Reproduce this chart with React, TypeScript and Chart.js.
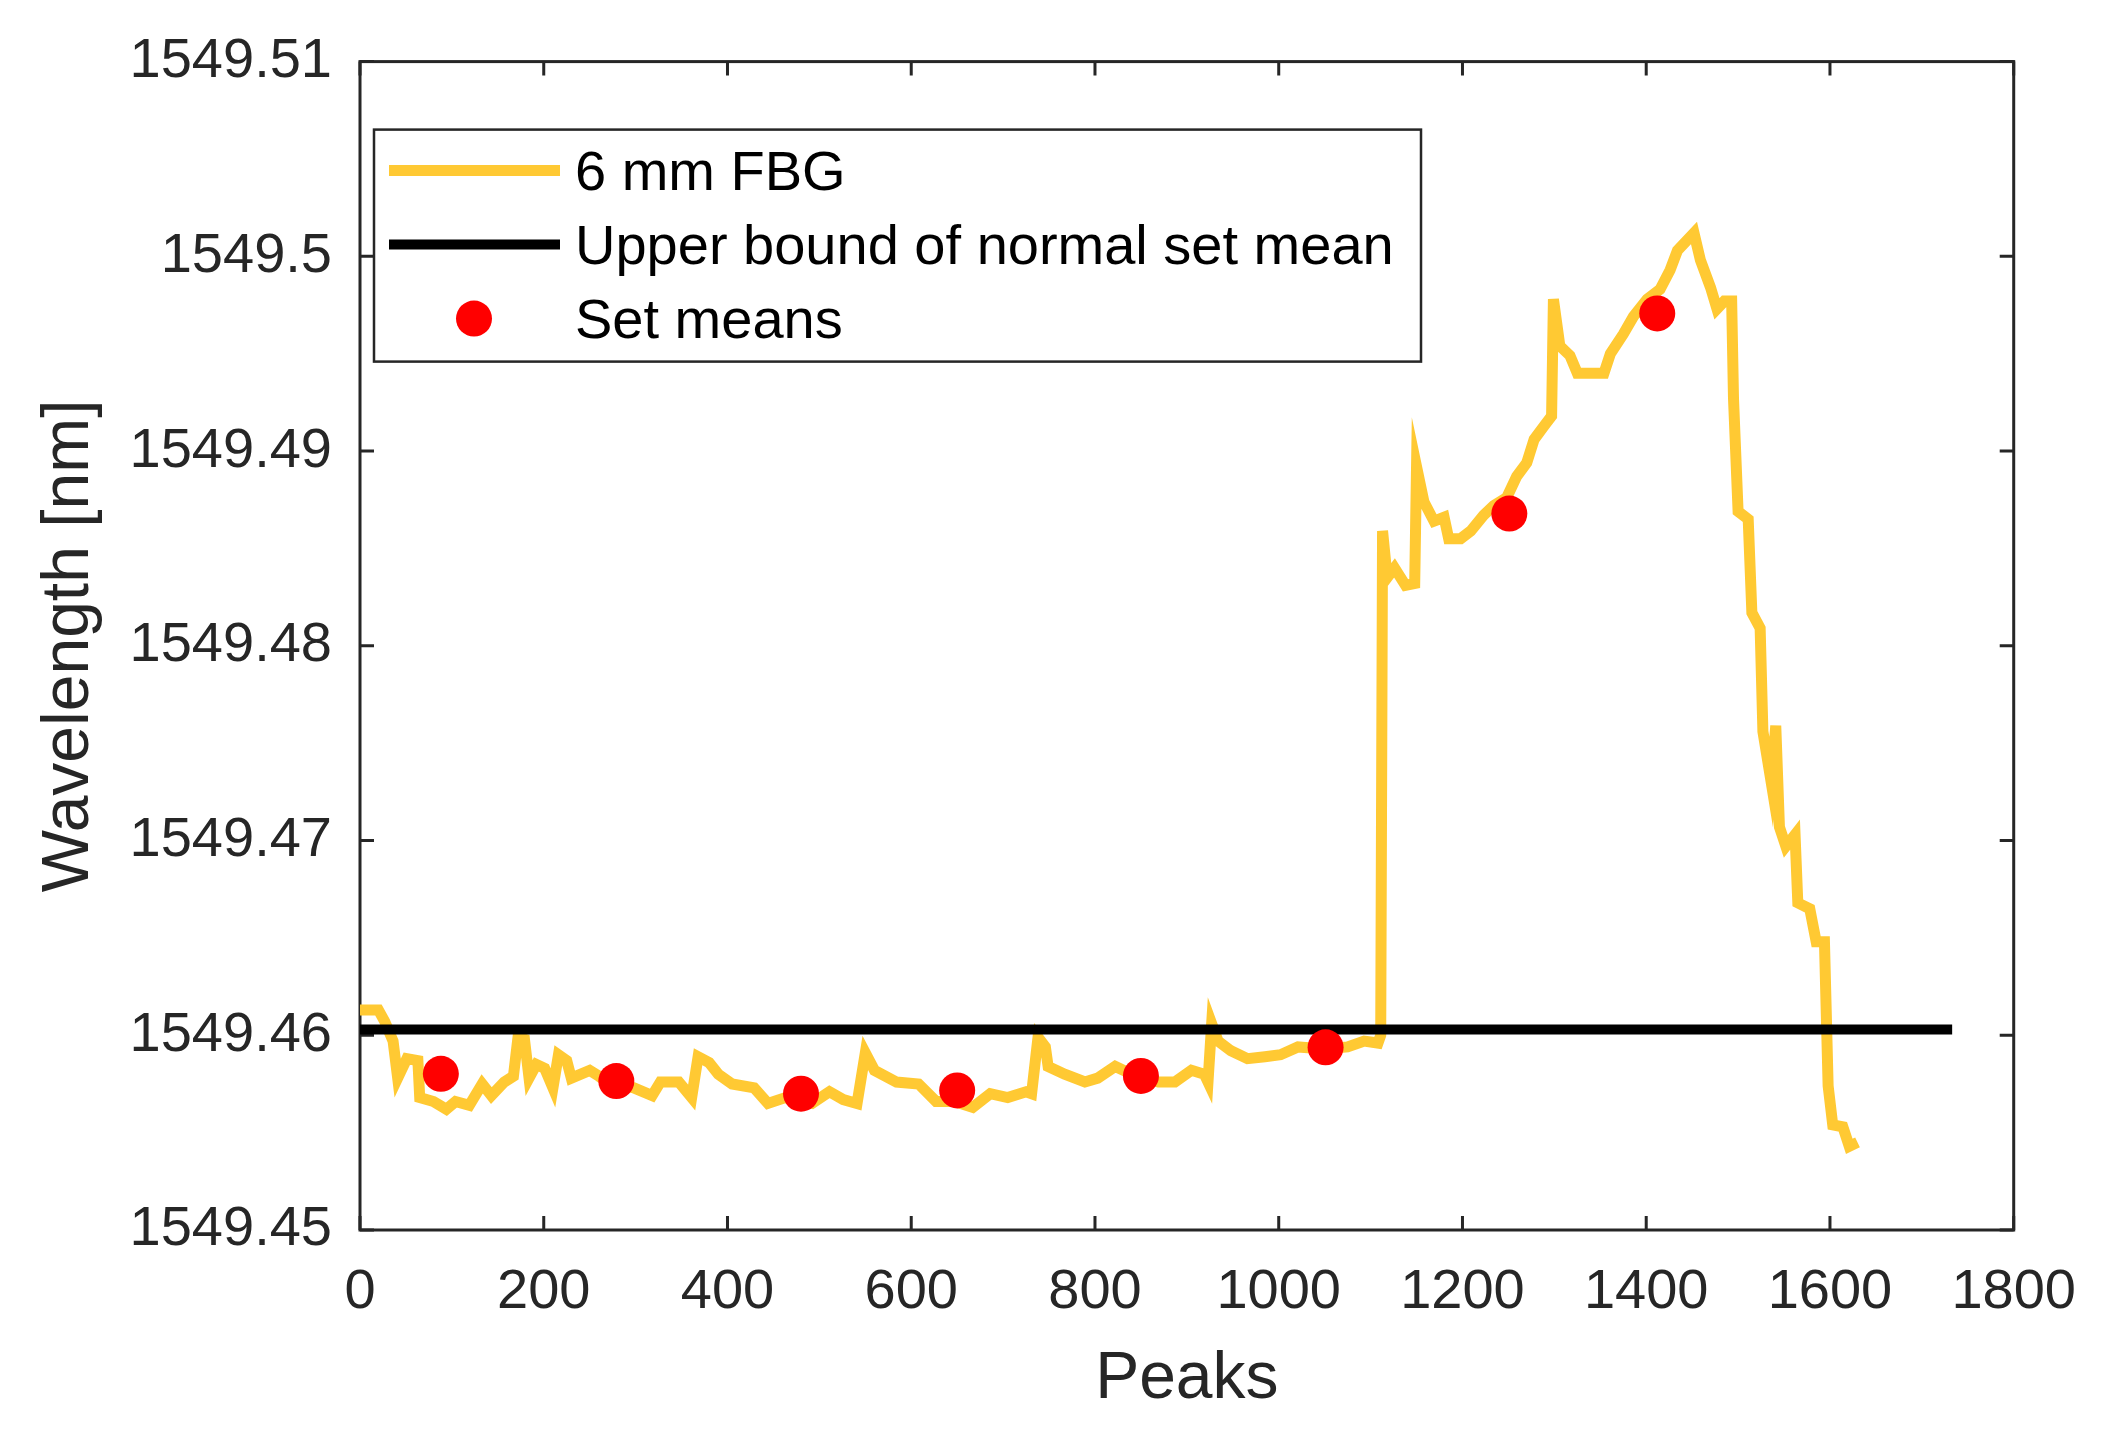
import { useEffect, useRef } from "react";
import { Chart, registerables } from "chart.js";

Chart.register(...registerables);

// 6 mm FBG trace (peak index vs. wavelength in nm)
const peakIndex: number[] = [
  0, 20, 27, 36, 41, 51, 63, 65, 80, 94, 104, 119, 133, 143, 157, 167, 172, 179, 184, 192,
  201, 210, 216, 225, 230, 250, 260, 269, 298, 318, 327, 347, 361, 368, 380, 390, 405, 429, 444, 463,
  492, 511, 526, 541, 550, 560, 584, 608, 627, 647, 667, 686, 705, 725, 731, 738, 746, 749, 767, 789,
  803, 822, 840, 869, 887, 905, 919, 923, 927, 934, 948, 966, 985, 1002, 1021, 1049, 1075, 1093, 1108, 1111,
  1113, 1118, 1126, 1138, 1148, 1150, 1158, 1169, 1180, 1185, 1198, 1209, 1223, 1234, 1248, 1259, 1270, 1278, 1289, 1297,
  1299, 1306, 1317, 1325, 1354, 1361, 1375, 1386, 1401, 1415, 1426, 1434, 1452, 1459, 1470, 1477, 1485, 1493, 1495, 1500,
  1511, 1515, 1524, 1527, 1536, 1541, 1545, 1552, 1562, 1565, 1578, 1585, 1594, 1598, 1603, 1614, 1621, 1630,
];
const wavelengthNm: number[] = [
  1549.4613, 1549.4613, 1549.4607, 1549.4597, 1549.4578, 1549.4588, 1549.4587, 1549.4568, 1549.4566, 1549.4562,
  1549.4566, 1549.4564, 1549.4575, 1549.4569, 1549.4576, 1549.4579, 1549.4599, 1549.4598, 1549.4578, 1549.4585,
  1549.4583, 1549.4573, 1549.459, 1549.4587, 1549.4578, 1549.4582, 1549.4579, 1549.4576, 1549.4573, 1549.4569,
  1549.4576, 1549.4576, 1549.4568, 1549.4589, 1549.4586, 1549.458, 1549.4575, 1549.4573, 1549.4565, 1549.4568,
  1549.4565, 1549.4571, 1549.4567, 1549.4565, 1549.4591, 1549.4582, 1549.4576, 1549.4575, 1549.4566, 1549.4566,
  1549.4563, 1549.457, 1549.4568, 1549.4571, 1549.457, 1549.4599, 1549.4594, 1549.4584, 1549.458, 1549.4576,
  1549.4578, 1549.4584, 1549.458, 1549.4576, 1549.4576, 1549.4582, 1549.458, 1549.4576, 1549.4606, 1549.4597,
  1549.4592, 1549.4588, 1549.4589, 1549.459, 1549.4594, 1549.4593, 1549.4594, 1549.4597, 1549.4596, 1549.46,
  1549.4859, 1549.4835, 1549.484, 1549.4831, 1549.4832, 1549.4892, 1549.4874, 1549.4864, 1549.4866, 1549.4855,
  1549.4855, 1549.4859, 1549.4867, 1549.4872, 1549.4876, 1549.4887, 1549.4894, 1549.4906, 1549.4913, 1549.4918,
  1549.4978, 1549.4954, 1549.4949, 1549.494, 1549.494, 1549.495, 1549.496, 1549.4969, 1549.4978, 1549.4983,
  1549.4993, 1549.5003, 1549.5012, 1549.4998, 1549.4984, 1549.4973, 1549.4977, 1549.4977, 1549.4927, 1549.4869,
  1549.4865, 1549.4817, 1549.4809, 1549.4756, 1549.473, 1549.4759, 1549.4707, 1549.4697, 1549.4703, 1549.4668,
  1549.4665, 1549.4648, 1549.4648, 1549.4574, 1549.4554, 1549.4553, 1549.4543, 1549.4545,
];

// upper bound of the normal set mean
const boundPeak: number[] = [0, 1733];
const boundWavelength: number[] = [1549.4603, 1549.4603];

// set means
const meanPeak: number[] = [88, 279, 480, 650, 850, 1051, 1251, 1412];
const meanWavelength: number[] = [
  1549.45802, 1549.45765, 1549.457, 1549.45717, 1549.45791, 1549.45938, 1549.48679, 1549.49707,
];

const seriesLabels: string[] = ["6 mm FBG", "Upper bound of normal set mean", "Set means"];

const xTicks: number[] = [0, 200, 400, 600, 800, 1000, 1200, 1400, 1600, 1800];
const yTicks: number[] = [1549.45, 1549.46, 1549.47, 1549.48, 1549.49, 1549.5, 1549.51];

const FONT = "'Liberation Sans', Arial, sans-serif";
const INK = "#262626";

const toPoints = (xs: number[], ys: number[]) => xs.map((x, i) => ({ x, y: ys[i] }));

// MATLAB-style box with inward ticks on all four sides
const axesBox = {
  id: "axesBox",
  beforeDatasetsDraw(chart: any) {
    const { ctx, chartArea: a, scales } = chart;
    const len = 14;
    ctx.save();
    ctx.strokeStyle = INK;
    ctx.lineWidth = 3;
    ctx.strokeRect(a.left, a.top, a.right - a.left, a.bottom - a.top);
    ctx.beginPath();
    xTicks.forEach((v) => {
      const px = scales.x.getPixelForValue(v);
      ctx.moveTo(px, a.bottom);
      ctx.lineTo(px, a.bottom - len);
      ctx.moveTo(px, a.top);
      ctx.lineTo(px, a.top + len);
    });
    yTicks.forEach((v) => {
      const py = scales.y.getPixelForValue(v);
      ctx.moveTo(a.left, py);
      ctx.lineTo(a.left + len, py);
      ctx.moveTo(a.right, py);
      ctx.lineTo(a.right - len, py);
    });
    ctx.stroke();
    ctx.restore();
  },
};

// legend box in the upper left of the axes
const legendBox = {
  id: "legendBox",
  afterDatasetsDraw(chart: any) {
    const { ctx, chartArea: a } = chart;
    const left = a.left + 14;
    const top = a.top + 68;
    const w = 1047;
    const h = 232;
    ctx.save();
    ctx.fillStyle = "#ffffff";
    ctx.fillRect(left, top, w, h);
    ctx.strokeStyle = INK;
    ctx.lineWidth = 2.5;
    ctx.strokeRect(left, top, w, h);
    chart.data.datasets.forEach((ds: any, i: number) => {
      const y = top + 41 + i * 74;
      if (ds.showLine === false) {
        ctx.fillStyle = ds.backgroundColor;
        ctx.beginPath();
        ctx.arc(left + 100, y, ds.pointRadius, 0, Math.PI * 2);
        ctx.fill();
      } else {
        ctx.strokeStyle = ds.borderColor;
        ctx.lineWidth = ds.borderWidth;
        ctx.beginPath();
        ctx.moveTo(left + 15, y);
        ctx.lineTo(left + 186, y);
        ctx.stroke();
      }
      ctx.fillStyle = "#000000";
      ctx.font = `56px ${FONT}`;
      ctx.textBaseline = "middle";
      ctx.textAlign = "left";
      ctx.fillText(ds.label, left + 201, y + 4);
    });
    ctx.restore();
  },
};

const App: React.FC = () => {
  const chartRef = useRef<HTMLCanvasElement | null>(null);

  useEffect(() => {
    const chart = new Chart(chartRef.current!, {
      type: "scatter",
      data: {
        datasets: [
          {
            label: seriesLabels[0],
            data: toPoints(peakIndex, wavelengthNm),
            showLine: true,
            borderColor: "#FFC933",
            backgroundColor: "#FFC933",
            borderWidth: 11,
            pointRadius: 0,
            tension: 0,
            order: 2,
          },
          {
            label: seriesLabels[1],
            data: toPoints(boundPeak, boundWavelength),
            showLine: true,
            borderColor: "#000000",
            backgroundColor: "#000000",
            borderWidth: 10,
            pointRadius: 0,
            order: 1,
          },
          {
            label: seriesLabels[2],
            data: toPoints(meanPeak, meanWavelength),
            showLine: false,
            backgroundColor: "#FF0000",
            borderColor: "#FF0000",
            borderWidth: 0,
            pointRadius: 18,
            order: 0,
          },
        ],
      },
      options: {
        animation: false,
        responsive: false,
        devicePixelRatio: 1,
        layout: { padding: { top: 53, right: 87, bottom: 0, left: 0 } },
        plugins: {
          legend: { display: false },
          tooltip: { enabled: false },
        },
        scales: {
          x: {
            type: "linear",
            min: 0,
            max: 1800,
            afterFit: (scale: any) => {
              scale.height = 203;
            },
            afterBuildTicks: (scale: any) => {
              scale.ticks = xTicks.map((value) => ({ value }));
            },
            grid: { display: false, drawTicks: false },
            border: { display: false },
            ticks: {
              padding: 29,
              color: INK,
              font: { family: FONT, size: 56 },
              maxRotation: 0,
              callback: (v: any) => String(v),
            },
            title: {
              display: true,
              text: "Peaks",
              color: INK,
              font: { family: FONT, size: 66 },
              padding: { top: 0, bottom: 14 },
            },
          },
          y: {
            type: "linear",
            min: 1549.45,
            max: 1549.51,
            afterFit: (scale: any) => {
              scale.width = 360;
            },
            afterBuildTicks: (scale: any) => {
              scale.ticks = yTicks.map((value) => ({ value }));
            },
            grid: { display: false, drawTicks: false },
            border: { display: false },
            ticks: {
              padding: 28,
              color: INK,
              font: { family: FONT, size: 56 },
              callback: (v: any) => String(Number(Number(v).toFixed(2))),
            },
            title: {
              display: true,
              text: "Wavelength [nm]",
              color: INK,
              font: { family: FONT, size: 66 },
              padding: { top: 30, bottom: 0 },
            },
          },
        },
      },
      plugins: [axesBox, legendBox],
    } as any);

    return () => {
      chart.destroy();
    };
  }, []);

  return (
    <div style={{ position: "fixed", left: 0, top: 0, width: 2105, height: 1433, background: "#ffffff" }}>
      <canvas ref={chartRef} width={2105} height={1433} />
    </div>
  );
};

export default App;
